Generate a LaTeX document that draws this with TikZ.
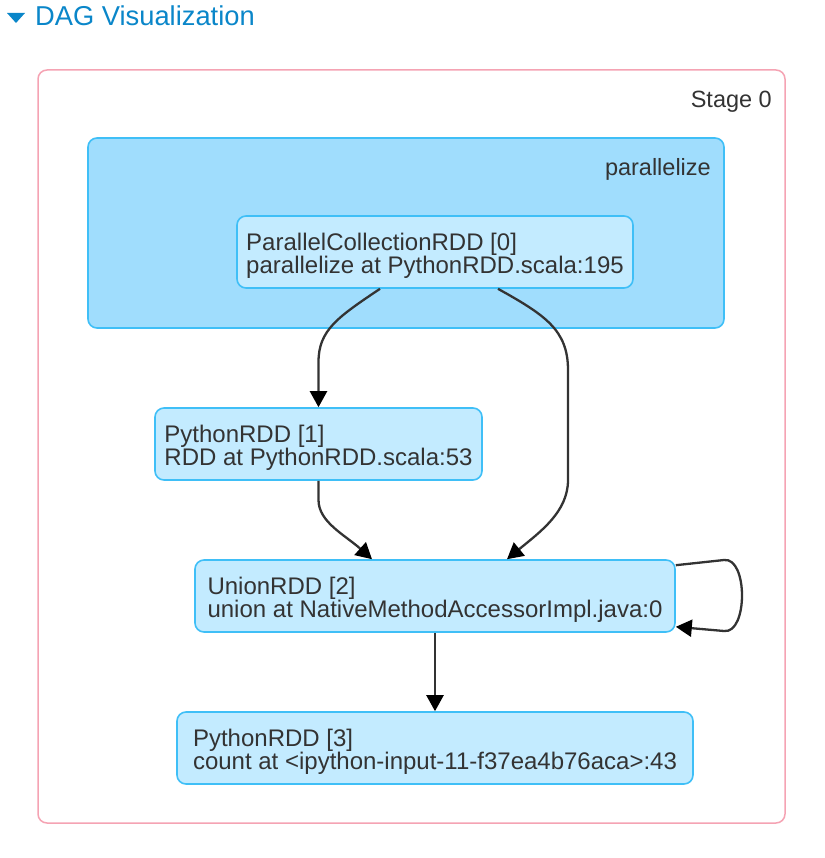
\documentclass[tikz,border=0pt]{standalone}
\usepackage{fontspec}
\setmainfont{Liberation Sans}
\usetikzlibrary{arrows.meta}
\definecolor{titleblue}{HTML}{0A86C9}
\definecolor{stagepink}{HTML}{F5A3B3}
\definecolor{clusterfill}{HTML}{A0DDFD}
\definecolor{nodeblue}{HTML}{3FBFF7}
\definecolor{nodefill}{HTML}{C3EBFF}
\definecolor{inktext}{HTML}{333333}
\definecolor{edgeink}{HTML}{333333}
\newcommand{\hitop}{\rule{0pt}{24.5pt}}
\newcommand{\lobot}{\rule[-5.5pt]{0pt}{1pt}}
\tikzset{
  rddbox/.style={draw=nodeblue, fill=nodefill, line width=1.6pt, rounded corners=9pt,
    minimum height=72pt, inner xsep=4pt, inner ysep=0pt, align=left,
    text=inktext, font=\fontsize{24}{23}\selectfont},
  clusterbox/.style={draw=nodeblue, fill=clusterfill, line width=1.6pt, rounded corners=9pt},
  stagebox/.style={draw=stagepink, line width=1.5pt, rounded corners=9pt},
  lbl/.style={text=inktext, font=\fontsize{23.5}{26}\selectfont, inner sep=0pt},
  edge/.style={draw=edgeink, line width=2.3pt, -{Triangle[length=16pt,width=17pt,color=black]}},
}
\begin{document}
\begin{tikzpicture}[x=1pt,y=-1pt]
\useasboundingbox (0,0) rectangle (824,858);
% title
\fill[titleblue] (7,13) -- (25,13) -- (16,23) -- cycle;
\node[anchor=base west, inner sep=0pt, text=titleblue, font=\fontsize{27.3}{30}\selectfont] (title) at (35,26) {DAG Visualization};
% stage
\draw[stagebox] (38,70) rectangle (785,823);
\node[lbl, anchor=base east] (stage) at (772,108) {Stage 0};
% cluster
\draw[clusterbox] (88,138) rectangle (724,328);
\node[lbl, anchor=base east] (par) at (711,176) {parallelize};
% nodes
\node[rddbox, minimum width=396pt] (n0) at (435,252) {\hitop ParallelCollectionRDD [0]\\parallelize at PythonRDD.scala:195\lobot};
\node[rddbox, minimum width=327pt] (n1) at (318.5,444) {\hitop PythonRDD [1]\\RDD at PythonRDD.scala:53\lobot};
\node[rddbox, minimum width=480pt] (n2) at (435,596) {\hitop UnionRDD [2]\\union at NativeMethodAccessorImpl.java:0\lobot};
\node[rddbox, minimum width=516pt] (n3) at (435,748) {\hitop PythonRDD [3]\\count at <ipython-input-11-f37ea4b76aca>:43\lobot};
% edges
\draw[edge] ([xshift=-55pt]n0.south) .. controls (338,317) and (318.5,330) .. (318.5,362) -- (n1.north);
\draw[edge] ([xshift=63pt]n0.south) .. controls (545,315) and (568,330) .. (568,370) -- (568,480) .. controls (568,512) and (540,532) .. ([xshift=72pt]n2.north);
\draw[edge] (n1.south) -- (318.5,500) .. controls (318.5,522) and (345,535) .. ([xshift=-63pt]n2.north);
\draw[edge] (n2.south) -- (n3.north);
\draw[edge] ([yshift=-6pt]n2.north east) -- (724,560) .. controls (748,557) and (748,634) .. (724,631) -- ([yshift=6pt]n2.south east);
\end{tikzpicture}
\end{document}
